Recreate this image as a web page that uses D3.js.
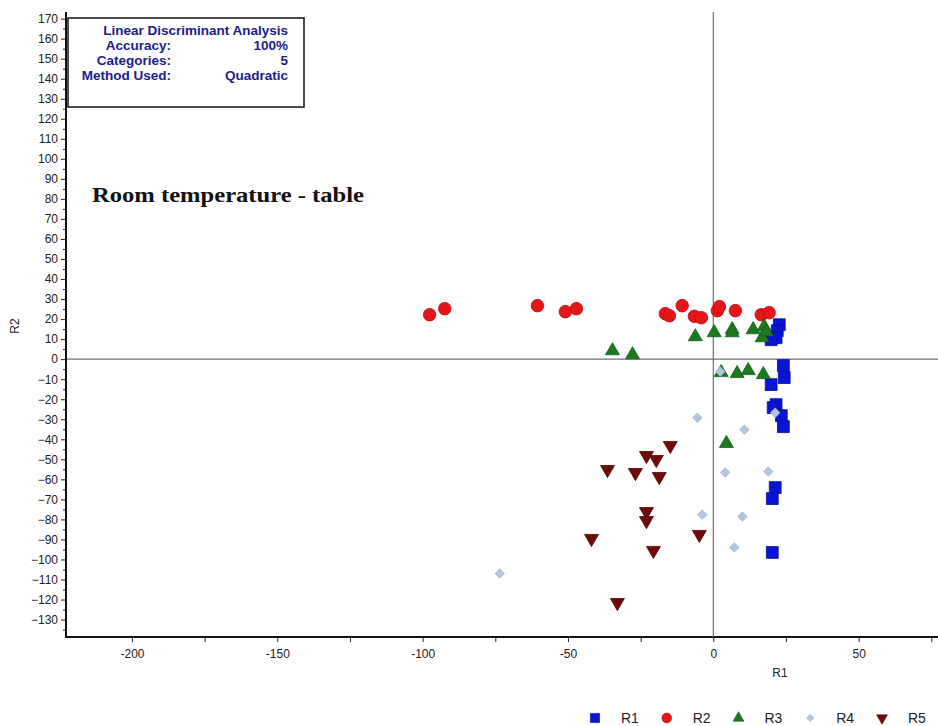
<!DOCTYPE html>
<html>
<head>
<meta charset="utf-8">
<script src="https://cdn.jsdelivr.net/npm/d3@7"></script>
<style>
  body { margin: 0; background: #fff; }
  svg { display: block; font-family: Arial, 'Liberation Sans', sans-serif; }
</style>
</head>
<body>
<svg id="chart" width="938" height="726"></svg>
<script>
// discriminant scores, [R1, R2]
const r1Points = [
  [22.7, 17.2], [22.0, 14.2], [21.6, 10.7], [19.9, 9.7], [24.1, -3.2],
  [24.4, -9.2], [19.9, -12.7], [21.6, -22.7], [20.6, -24.2], [23.4, -28.2],
  [24.1, -33.7], [21.3, -64.1], [20.3, -69.6], [20.3, -96.5]
];
const r2Points = [
  [-97.6, 22.2], [-92.4, 25.2], [-60.5, 26.7], [-50.9, 23.7], [-47.1, 25.2],
  [-16.5, 22.7], [-15.1, 21.7], [-10.7, 26.7], [-6.5, 21.4], [-4.1, 20.7],
  [1.4, 24.2], [2.1, 26.2], [7.6, 24.2], [16.5, 22.2], [19.2, 23.2]
];
const r3Points = [
  [-34.7, 4.2], [-27.8, 2.2], [-6.2, 11.2], [0.3, 13.2], [6.5, 14.7],
  [6.5, 13.2], [13.7, 14.7], [17.5, 16.2], [16.8, 10.7], [18.2, 13.7],
  [2.7, -6.7], [8.2, -7.2], [12.0, -5.7], [17.2, -7.7], [4.5, -42.1]
];
const r4Points = [
  [2.4, -6.2], [21.3, -26.7], [-5.5, -29.2], [10.7, -35.2], [4.1, -56.6],
  [18.9, -56.1], [-3.8, -77.6], [10.0, -78.6], [7.2, -94.0], [-73.5, -107.0]
];
const r5Points = [
  [-14.8, -43.1], [-23.0, -48.1], [-19.6, -50.1], [-36.4, -55.1], [-26.8, -56.6],
  [-18.6, -58.6], [-23.0, -76.1], [-23.0, -80.6], [-41.9, -89.5], [-4.8, -87.5],
  [-20.6, -95.5], [-33.0, -121.5]
];

const seriesNames = ['R1', 'R2', 'R3', 'R4', 'R5'];
const xTickValues = [-200, -150, -100, -50, 0, 50];
const yTickValues = d3.range(-130, 171, 10);

const infoRows = [
  ['Accuracy:', '100%'],
  ['Categories:', '5'],
  ['Method Used:', 'Quadratic']
];

const WIDTH = 938, HEIGHT = 726;
const margin = { top: 12, right: 0, bottom: 89, left: 66 };

const svg = d3.select('#chart');

const x = d3.scaleLinear()
  .domain([-222.7, 77.3])
  .range([margin.left, WIDTH - margin.right]);

const y = d3.scaleLinear()
  .domain([-138.7, 173.3])
  .range([HEIGHT - margin.bottom, margin.top]);

const series = [
  { name: 'R1', points: r1Points, type: d3.symbolSquare, size: 140, fill: '#0a14d2', stroke: '#0010a0', rotate: 0 },
  { name: 'R2', points: r2Points, type: d3.symbolCircle, size: 125, fill: '#e4161a', stroke: '#c40c10', rotate: 0 },
  { name: 'R3', points: r3Points, type: d3.symbolTriangle, size: 85, fill: '#1b7a1f', stroke: '#146018', rotate: 0 },
  { name: 'R4', points: r4Points, type: d3.symbolSquare, size: 45, fill: '#b3c6dc', stroke: '#a6bad2', rotate: 45 },
  { name: 'R5', points: r5Points, type: d3.symbolTriangle, size: 85, fill: '#6e0a0a', stroke: '#560606', rotate: 180 }
];

drawAxes();
drawQuadrantLines();
drawPoints();
drawInfoBox();
drawLegend();

function drawAxes() {
  const bottom = HEIGHT - margin.bottom;

  // x axis: labels every 50, small ticks every 25
  const xAxis = d3.axisBottom(x)
    .tickValues(d3.range(-200, 76, 25))
    .tickSize(5)
    .tickFormat(d => xTickValues.includes(d) ? d : '');

  const gx = svg.append('g')
    .attr('class', 'x-axis')
    .attr('transform', `translate(0, ${bottom})`)
    .call(xAxis);
  gx.select('.domain').remove();
  gx.selectAll('.tick line').attr('stroke', '#222');
  gx.selectAll('.tick text')
    .attr('dy', '1.1em')
    .attr('fill', '#222')
    .style('font-size', '12px');

  // y axis: labels every 10, minor ticks every 5
  const yMinor = d3.axisLeft(y)
    .tickValues(d3.range(-135, 171, 10))
    .tickSize(3)
    .tickFormat('');
  const gyMinor = svg.append('g')
    .attr('transform', `translate(${margin.left}, 0)`)
    .call(yMinor);
  gyMinor.select('.domain').remove();
  gyMinor.selectAll('.tick line').attr('stroke', '#222');

  const yAxis = d3.axisLeft(y)
    .tickValues(yTickValues)
    .tickSize(5)
    .tickPadding(3);
  const gy = svg.append('g')
    .attr('class', 'y-axis')
    .attr('transform', `translate(${margin.left}, 0)`)
    .call(yAxis);
  gy.select('.domain').remove();
  gy.selectAll('.tick line').attr('stroke', '#222');
  gy.selectAll('.tick text')
    .attr('fill', '#222')
    .style('font-size', '12px');

  // axis lines
  svg.append('line')
    .attr('x1', margin.left).attr('x2', WIDTH)
    .attr('y1', bottom).attr('y2', bottom)
    .attr('stroke', '#111')
    .attr('stroke-width', 2);
  svg.append('line')
    .attr('x1', margin.left).attr('x2', margin.left)
    .attr('y1', margin.top).attr('y2', bottom + 1)
    .attr('stroke', '#111')
    .attr('stroke-width', 2);

  svg.append('text')
    .attr('x', 780)
    .attr('y', 677)
    .attr('text-anchor', 'middle')
    .attr('fill', '#222')
    .style('font-size', '12px')
    .text('R1');

  svg.append('text')
    .attr('transform', 'translate(19, 326) rotate(-90)')
    .attr('text-anchor', 'middle')
    .attr('fill', '#222')
    .style('font-size', '12px')
    .text('R2');

  svg.append('text')
    .attr('x', 92)
    .attr('y', 202)
    .attr('fill', '#111')
    .attr('textLength', 272)
    .attr('lengthAdjust', 'spacingAndGlyphs')
    .style('font-family', "'Liberation Serif', 'Times New Roman', serif")
    .style('font-weight', 'bold')
    .style('font-size', '22px')
    .text('Room temperature - table');
}

function drawQuadrantLines() {
  svg.append('line')
    .attr('x1', margin.left + 1).attr('x2', WIDTH)
    .attr('y1', y(0)).attr('y2', y(0))
    .attr('stroke', '#6f6f6f')
    .attr('stroke-width', 1.2);
  svg.append('line')
    .attr('x1', x(0)).attr('x2', x(0))
    .attr('y1', margin.top).attr('y2', HEIGHT - margin.bottom)
    .attr('stroke', '#6f6f6f')
    .attr('stroke-width', 1.2);
}

function drawPoints() {
  const layer = svg.append('g').attr('class', 'points');

  series.forEach(s => {
    const symbol = d3.symbol().type(s.type).size(s.size);
    layer.append('g')
      .attr('class', `series series-${s.name}`)
      .selectAll('path')
      .data(s.points)
      .enter()
      .append('path')
      .attr('d', symbol)
      .attr('transform', d => `translate(${x(d[0])}, ${y(d[1])}) rotate(${s.rotate})`)
      .attr('fill', s.fill)
      .attr('stroke', s.stroke)
      .attr('stroke-width', 0.8);
  });
}

function drawInfoBox() {
  const box = svg.append('g').attr('class', 'info-box');

  box.append('rect')
    .attr('x', 68)
    .attr('y', 18)
    .attr('width', 236)
    .attr('height', 89)
    .attr('fill', '#fff')
    .attr('stroke', '#111')
    .attr('stroke-width', 1.5);

  const textStyle = sel => sel
    .attr('fill', '#1c1c8a')
    .style('font-weight', 'bold')
    .style('font-size', '13.5px');

  box.append('text')
    .attr('x', 288)
    .attr('y', 35)
    .attr('text-anchor', 'end')
    .call(textStyle)
    .text('Linear Discriminant Analysis');

  box.selectAll('.info-label')
    .data(infoRows)
    .enter()
    .append('text')
    .attr('class', 'info-label')
    .attr('x', 171)
    .attr('y', (d, i) => 50 + i * 15)
    .attr('text-anchor', 'end')
    .call(textStyle)
    .text(d => d[0]);

  box.selectAll('.info-value')
    .data(infoRows)
    .enter()
    .append('text')
    .attr('class', 'info-value')
    .attr('x', 288)
    .attr('y', (d, i) => 50 + i * 15)
    .attr('text-anchor', 'end')
    .call(textStyle)
    .text(d => d[1]);
}

function drawLegend() {
  const legendX = d3.scalePoint()
    .domain(seriesNames)
    .range([595, 882]);

  const item = svg.append('g')
    .attr('class', 'legend')
    .selectAll('g')
    .data(series)
    .enter()
    .append('g')
    .attr('transform', d => `translate(${legendX(d.name)}, 718)`);

  item.append('path')
    .attr('d', d => d3.symbol().type(d.type).size(d.size * 0.6)())
    .attr('transform', d => `rotate(${d.rotate})`)
    .attr('fill', d => d.fill)
    .attr('stroke', d => d.stroke)
    .attr('stroke-width', 0.6);

  item.append('text')
    .attr('x', 26)
    .attr('y', 5)
    .attr('fill', '#222')
    .style('font-size', '14px')
    .text(d => d.name);
}
</script>
</body>
</html>
